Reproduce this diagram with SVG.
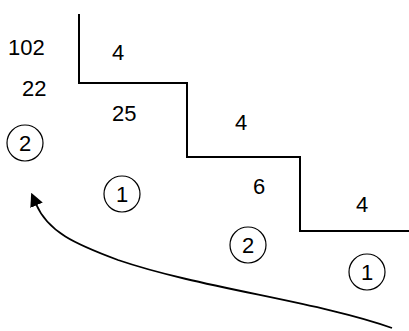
<svg xmlns="http://www.w3.org/2000/svg" width="409" height="331" viewBox="0 0 409 331">
  <style>
    .num { font-family: "Liberation Sans", Arial, sans-serif; font-size: 22px; fill: #000; }
    .ring { fill: none; stroke: #000; stroke-width: 1.2; }
    .step { fill: none; stroke: #000; stroke-width: 2; }
    .flow { fill: none; stroke: #000; stroke-width: 1.8; }
  </style>
  <defs>
    <marker id="head" viewBox="0 0 10 10" refX="1" refY="5" markerWidth="7.5" markerHeight="7.5" orient="auto-start-reverse" markerUnits="strokeWidth">
      <path d="M0,0 L10,5 L0,10 Z" fill="#000"/>
    </marker>
  </defs>

  <rect width="409" height="331" fill="#fff"/>

  <!-- staircase outline -->
  <g id="staircase">
    <path class="step" d="M79,14 V83 H187 V157 H300 V231 H409"/>
  </g>

  <!-- labels -->
  <g id="labels">
    <text class="num" x="8" y="55">102</text>
    <text class="num" x="22" y="96">22</text>
    <text class="num" x="112" y="60">4</text>
    <text class="num" x="112" y="121">25</text>
    <text class="num" x="235" y="130">4</text>
    <text class="num" x="253" y="194">6</text>
    <text class="num" x="356" y="212">4</text>
  </g>

  <!-- circled markers -->
  <g id="marker-a">
    <circle class="ring" cx="25" cy="143" r="18"/>
    <text class="num" x="25" y="151" text-anchor="middle">2</text>
  </g>
  <g id="marker-b">
    <circle class="ring" cx="122" cy="194" r="18"/>
    <text class="num" x="122" y="202" text-anchor="middle">1</text>
  </g>
  <g id="marker-c">
    <circle class="ring" cx="248" cy="245" r="18"/>
    <text class="num" x="248" y="253" text-anchor="middle">2</text>
  </g>
  <g id="marker-d">
    <circle class="ring" cx="367" cy="272" r="18"/>
    <text class="num" x="367" y="280" text-anchor="middle">1</text>
  </g>

  <!-- return arrow -->
  <g id="connectors">
    <path class="flow" marker-start="url(#head)" d="M36,204 C48,232 75,244 118,260 C200,288 320,302 392,328"/>
  </g>
</svg>
